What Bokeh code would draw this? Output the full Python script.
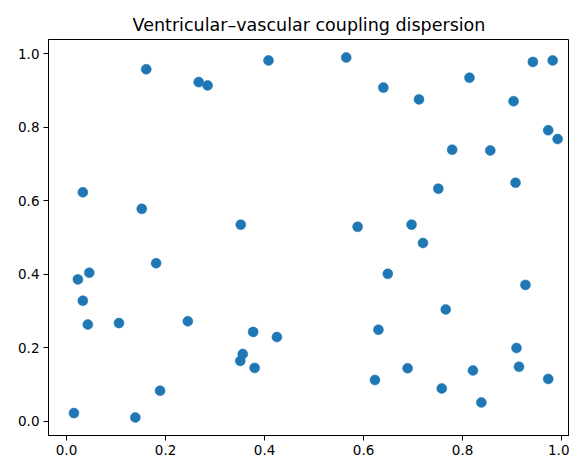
from bokeh.plotting import figure
from bokeh.embed import file_html
from bokeh.resources import INLINE
from bokeh.models import Range1d, FixedTicker, NumeralTickFormatter

title_text = "Ventricular\u2013vascular coupling dispersion"

xs = [0.161, 0.267, 0.285, 0.408, 0.565, 0.640, 0.712, 0.814, 0.903, 0.942,
      0.982, 0.973, 0.992, 0.779, 0.856, 0.907, 0.751, 0.033, 0.152, 0.352,
      0.588, 0.697, 0.720, 0.181, 0.023, 0.046, 0.649, 0.927, 0.033, 0.043,
      0.106, 0.245, 0.766, 0.377, 0.425, 0.630, 0.356, 0.351, 0.380, 0.909,
      0.689, 0.821, 0.914, 0.623, 0.973, 0.758, 0.838, 0.189, 0.015, 0.139]
ys = [0.958, 0.923, 0.914, 0.982, 0.990, 0.908, 0.876, 0.935, 0.871, 0.978,
      0.982, 0.792, 0.768, 0.739, 0.737, 0.649, 0.633, 0.623, 0.578, 0.535,
      0.529, 0.535, 0.485, 0.430, 0.386, 0.404, 0.401, 0.371, 0.328, 0.263,
      0.267, 0.272, 0.304, 0.243, 0.229, 0.249, 0.183, 0.164, 0.145, 0.199,
      0.144, 0.138, 0.148, 0.112, 0.115, 0.089, 0.051, 0.083, 0.022, 0.010]
tick_vals = [0.0, 0.2, 0.4, 0.6, 0.8, 1.0]

p = figure(width=569, height=462, output_backend="svg", toolbar_location=None,
           x_range=Range1d(-0.0364, 1.016), y_range=Range1d(-0.039, 1.039),
           min_border_left=48, min_border_right=0, min_border_bottom=27, min_border_top=39)

p.title.text = title_text
p.title.text_font = "DejaVu Sans"
p.title.text_font_size = "17.5px"
p.title.text_font_style = "normal"
p.title.text_color = "black"
p.title.align = "center"
p.title.offset = 4

p.outline_line_color = "black"
p.outline_line_width = 1
p.background_fill_color = "white"
p.border_fill_color = "white"
p.xgrid.visible = False
p.ygrid.visible = False

for ax in (p.xaxis[0], p.yaxis[0]):
    ax.ticker = FixedTicker(ticks=tick_vals)
    ax.formatter = NumeralTickFormatter(format="0.0")
    ax.axis_line_color = "black"
    ax.axis_line_width = 1
    ax.major_tick_line_color = "black"
    ax.major_tick_out = 5
    ax.major_tick_in = 0
    ax.minor_tick_out = 0
    ax.minor_tick_in = 0
    ax.major_label_standoff = 4
    ax.major_label_text_font = "DejaVu Sans"
    ax.major_label_text_font_size = "13.5px"
    ax.major_label_text_color = "black"

p.scatter(xs, ys, size=10, fill_color="#1f77b4", line_color="#1f77b4", line_width=0.5)

open("out.html", "w").write(file_html(p, INLINE))
